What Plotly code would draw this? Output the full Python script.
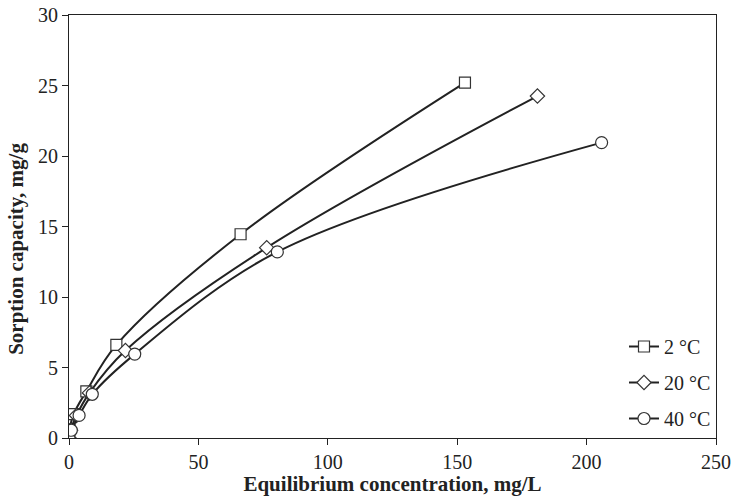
import plotly.graph_objects as go

x_2c = [0, 0.2, 1.8, 6.7, 18.3, 66.3, 153]
y_2c = [0, 0.6, 1.7, 3.3, 6.6, 14.45, 25.2]
x_20c = [0, 0.6, 2.9, 7.9, 21.8, 76.4, 181]
y_20c = [0, 0.55, 1.6, 3.2, 6.2, 13.5, 24.25]
x_40c = [0, 0.9, 3.9, 9.0, 25.4, 80.5, 205.8]
y_40c = [0, 0.55, 1.6, 3.1, 5.95, 13.2, 20.95]
names = ["2 °C", "20 °C", "40 °C"]
symbols = ["square", "diamond", "circle"]

FONT = "Liberation Serif"
fig = go.Figure()
for i, (xs, ys, nm, sym, sz) in enumerate([(x_2c, y_2c, names[0], symbols[0], 11),
                                           (x_20c, y_20c, names[1], symbols[1], 11),
                                           (x_40c, y_40c, names[2], symbols[2], 12)]):
    fig.add_trace(go.Scatter(
        x=xs, y=ys, name=nm, mode="lines+markers", legendgroup=f"g{i}",
        line=dict(color="#222222", width=2, shape="spline", smoothing=1),
        marker=dict(symbol=sym, size=sz, color="white",
                    line=dict(color="#333333", width=1.2)),
    ))

fig.update_layout(
    width=733, height=496,
    margin=dict(l=69, r=17, t=15, b=58),
    paper_bgcolor="white", plot_bgcolor="white",
    font=dict(family=FONT, size=20, color="#222222"),
    showlegend=True,
    legend=dict(x=1, xanchor="right", y=0.0, yanchor="bottom",
                bgcolor="rgba(0,0,0,0)", font=dict(size=20),
                itemwidth=30, tracegroupgap=7),
    annotations=[dict(text="<b>Sorption capacity, mg/g</b>", textangle=-90,
                      xref="paper", yref="paper", x=-0.082, y=0.447,
                      xanchor="center", yanchor="middle", showarrow=False,
                      font=dict(size=21))],
)
fig.update_xaxes(range=[0, 250], tickvals=[0, 50, 100, 150, 200, 250],
                 showgrid=False, zeroline=False, showline=True, linecolor="#222222",
                 linewidth=1.2, mirror=True, ticks="outside", ticklen=6,
                 tickcolor="#222222", automargin=False,
                 title=dict(text="<b>Equilibrium concentration, mg/L</b>",
                            font=dict(size=21), standoff=0))
fig.update_yaxes(range=[0, 30], tickvals=[0, 5, 10, 15, 20, 25, 30],
                 showgrid=False, zeroline=False, showline=True, linecolor="#222222",
                 linewidth=1.2, mirror=True, ticks="outside", ticklen=6,
                 tickcolor="#222222", automargin=False)
fig.write_html("out.html", post_script="document.body.style.margin='0px';",
               config={"displayModeBar": False})
